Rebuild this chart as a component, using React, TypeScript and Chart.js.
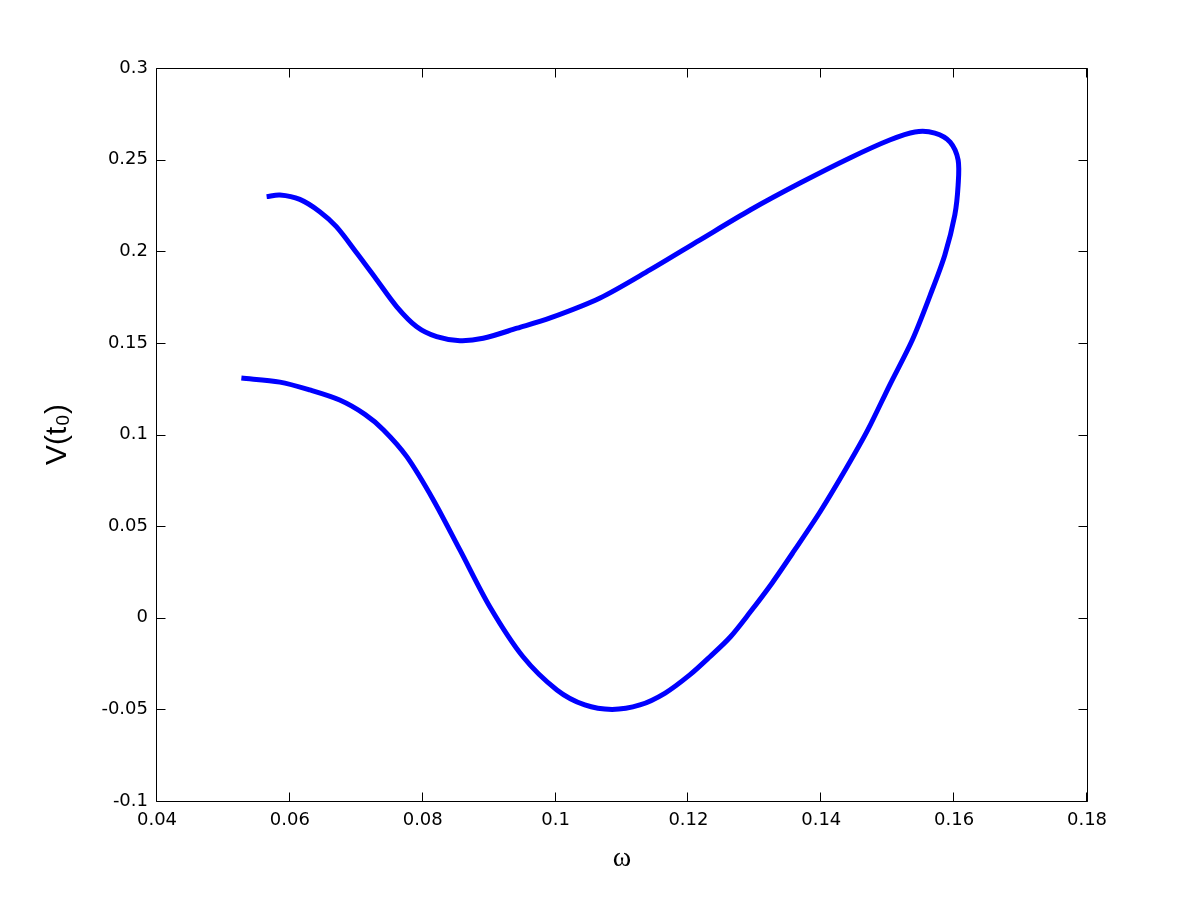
import React, { useEffect, useRef } from "react";
import { Chart, registerables } from "chart.js";

Chart.register(...registerables);

// Curve: omega (x) and V(t0) (y), in drawing order
const omegaValues = [
  0.0565, 0.0585, 0.0615, 0.0645, 0.067, 0.0701, 0.0731, 0.0761, 0.0791, 0.0821,
  0.0856, 0.0891, 0.0942, 0.0992, 0.1067, 0.1142, 0.1217, 0.1293, 0.1368, 0.1443,
  0.1503, 0.1541, 0.1571, 0.1594, 0.1606, 0.1606, 0.1601, 0.1586, 0.1564, 0.1537,
  0.1503, 0.147, 0.1436, 0.1398, 0.136, 0.1326, 0.1293, 0.1263, 0.1232, 0.1202,
  0.1165, 0.1127, 0.1085, 0.1044, 0.1002, 0.0951, 0.0901, 0.0856, 0.0816, 0.0776,
  0.0741, 0.0713, 0.0675, 0.063, 0.0585, 0.0527,
];
const vValues = [
  0.2298, 0.2307, 0.2283, 0.2216, 0.2134, 0.1989, 0.1843, 0.1697, 0.1588, 0.1534,
  0.1512, 0.1525, 0.158, 0.1636, 0.1745, 0.1898, 0.2061, 0.2225, 0.2372, 0.2509,
  0.2607, 0.2651, 0.2645, 0.2596, 0.2498, 0.2361, 0.2198, 0.198, 0.1761, 0.1516,
  0.127, 0.1025, 0.0806, 0.0577, 0.037, 0.019, 0.0031, -0.0105, -0.0214, -0.0312,
  -0.0411, -0.0476, -0.05, -0.0476, -0.0394, -0.0213, 0.006, 0.037, 0.0643, 0.0879,
  0.1025, 0.111, 0.1188, 0.1243, 0.1286, 0.1308,
];

const xTickValues = [0.04, 0.06, 0.08, 0.1, 0.12, 0.14, 0.16, 0.18];
const xTickLabels = ["0.04", "0.06", "0.08", "0.1", "0.12", "0.14", "0.16", "0.18"];
const yTickValues = [-0.1, -0.05, 0, 0.05, 0.1, 0.15, 0.2, 0.25, 0.3];
const yTickLabels = ["-0.1", "-0.05", "0", "0.05", "0.1", "0.15", "0.2", "0.25", "0.3"];

const xTitle = "ω";
const yTitle = "V(t₀)";

const boxTicksPlugin = {
  id: "boxTicks",
  afterDraw(chart: any) {
    const { ctx, chartArea } = chart;
    const { left, right, top, bottom } = chartArea;
    const xs = chart.scales.x;
    const ys = chart.scales.y;
    const tl = 9;
    ctx.save();
    ctx.strokeStyle = "#000000";
    ctx.lineWidth = 1;
    const L = Math.round(left) - 0.5;
    const R = Math.round(right) + 0.5;
    const T = Math.round(top) + 0.5;
    const B = Math.round(bottom) + 0.5;
    ctx.beginPath();
    ctx.rect(L, T, R - L, B - T);
    ctx.stroke();
    ctx.beginPath();
    xTickValues.forEach((v) => {
      const p = Math.round(xs.getPixelForValue(v)) - 0.5;
      ctx.moveTo(p, B);
      ctx.lineTo(p, B - tl);
      ctx.moveTo(p, T);
      ctx.lineTo(p, T + tl);
    });
    yTickValues.forEach((v) => {
      const p = Math.round(ys.getPixelForValue(v)) + 0.5;
      ctx.moveTo(L, p);
      ctx.lineTo(L + tl, p);
      ctx.moveTo(R, p);
      ctx.lineTo(R - tl, p);
    });
    ctx.stroke();
    ctx.restore();
  },
};

export default function App() {
  const canvasRef = useRef<HTMLCanvasElement | null>(null);

  useEffect(() => {
    document.body.style.margin = "0";
    const canvas = canvasRef.current;
    if (!canvas) return;
    const points = omegaValues.map((x, i) => ({ x, y: vValues[i] }));
    const tickFont = { family: "'DejaVu Sans', 'Liberation Sans', Arial, sans-serif", size: 18 };
    const chart = new Chart(canvas, {
      type: "scatter",
      data: {
        datasets: [
          {
            data: points,
            showLine: true,
            borderColor: "#0000ff",
            backgroundColor: "#0000ff",
            borderWidth: 5,
            pointRadius: 0,
            pointHoverRadius: 0,
            tension: 0.3,
            fill: false,
          },
        ],
      },
      options: {
        animation: false,
        responsive: false,
        devicePixelRatio: 1,
        layout: { padding: { top: 68, right: 114, left: 0, bottom: 0 } },
        plugins: {
          legend: { display: false },
          tooltip: { enabled: false },
          title: { display: false },
        },
        scales: {
          x: {
            type: "linear",
            min: 0.04,
            max: 0.18,
            grid: { display: false, drawTicks: false },
            border: { display: false },
            afterBuildTicks: (scale: any) => {
              scale.ticks = xTickValues.map((v) => ({ value: v }));
            },
            afterFit: (scale: any) => {
              scale.height = 99;
            },
            ticks: {
              color: "#000000",
              font: tickFont,
              padding: 9,
              maxRotation: 0,
              autoSkip: false,
              callback: (_v: any, i: number) => xTickLabels[i],
            },
            title: {
              display: true,
              text: xTitle,
              color: "#000000",
              font: { family: "'Liberation Serif', 'DejaVu Serif', serif", size: 28 },
              padding: { top: 0, bottom: 25 },
            },
          },
          y: {
            type: "linear",
            min: -0.1,
            max: 0.3,
            grid: { display: false, drawTicks: false },
            border: { display: false },
            afterBuildTicks: (scale: any) => {
              scale.ticks = yTickValues.map((v) => ({ value: v }));
            },
            afterFit: (scale: any) => {
              scale.width = 157;
            },
            ticks: {
              color: "#000000",
              font: tickFont,
              padding: 9,
              autoSkip: false,
              callback: (_v: any, i: number) => yTickLabels[i],
            },
            title: {
              display: true,
              text: yTitle,
              color: "#000000",
              font: { family: "'Liberation Sans', 'DejaVu Sans', sans-serif", size: 30 },
              padding: { top: 40, bottom: 0 },
            },
          },
        },
      },
      plugins: [boxTicksPlugin],
    });
    return () => chart.destroy();
  }, []);

  return (
    <div style={{ width: 1201, height: 900, background: "#ffffff" }}>
      <canvas ref={canvasRef} width={1201} height={900} style={{ display: "block" }} />
    </div>
  );
}
